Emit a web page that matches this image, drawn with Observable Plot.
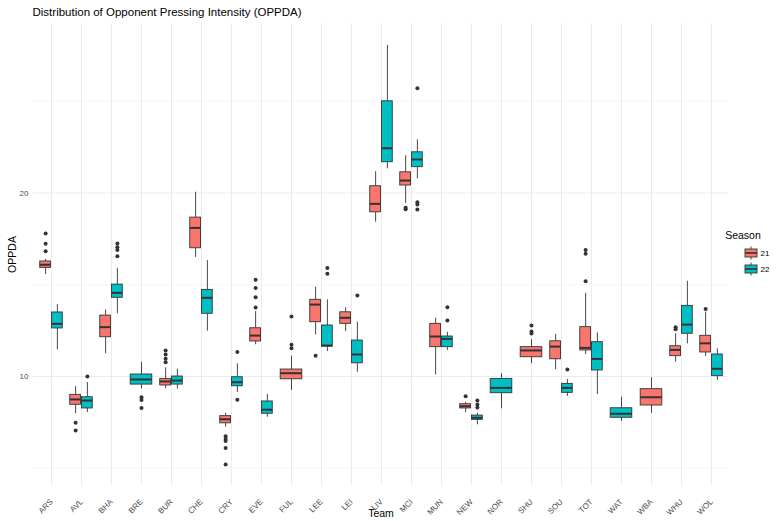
<!DOCTYPE html>
<html><head><meta charset="utf-8">
<script src="https://cdn.jsdelivr.net/npm/d3@7"></script>
<script src="https://cdn.jsdelivr.net/npm/@observablehq/plot@0.6"></script>
<style>body{margin:0;background:#fff}#chart{width:777px;height:521px}</style>
</head><body><div id="chart"></div>
<script>
const teams = ["ARS","AVL","BHA","BRE","BUR","CHE","CRY","EVE","FUL","LEE","LEI","LIV","MCI","MUN","NEW","NOR","SHU","SOU","TOT","WAT","WBA","WHU","WOL"];
const seasons = ["21","22"];
const seasonColors = ["#F8766D","#00BFC4"];
const yMajorTicks = [10, 20];
const yMinorTicks = [5, 15, 25];

// Season 21 box statistics (aligned with teams; null = no data)
const lower21 = [15.56,7.97,11.24,null,9.33,16.49,7.24,11.73,9.24,12.27,12.45,18.41,19.44,10.09,8.02,null,10.69,10.37,11.20,null,8.00,10.78,11.09];
const q1_21   = [15.92,8.46,12.14,null,9.51,16.99,7.45,11.91,9.85,12.96,12.87,18.95,20.41,11.60,8.26,null,11.05,10.94,11.42,null,8.42,11.11,11.31];
const med21   = [16.09,8.75,12.69,null,9.73,18.10,7.67,12.23,10.18,13.92,13.20,19.41,20.68,12.18,8.38,null,11.42,11.63,11.56,null,8.87,11.45,11.81];
const q3_21   = [16.27,9.00,13.32,null,9.87,18.66,7.84,12.63,10.38,14.18,13.50,20.37,21.13,12.87,8.49,null,11.60,11.92,12.69,null,9.31,11.65,12.22];
const upper21 = [16.38,9.46,13.63,null,10.47,20.04,8.00,13.54,11.11,14.87,13.74,21.17,22.03,13.18,8.60,null,12.00,12.29,14.54,null,9.93,12.33,13.51];
const outliers21 = [[17.79,17.23,16.83],[7.48,7.06],[],[],[11.42,11.2,10.97,10.78],[],[6.75,6.60,6.49,6.11,5.20],[15.27,14.83,14.32,13.76],[13.27,11.73,11.54],[11.13],[],[],[19.2,19.12],[],[8.93],[],[12.78,12.45,12.35],[],[16.90,16.69,15.19],[],[],[12.69,12.58],[13.68]];

// Season 22 box statistics
const lower22 = [11.45,8.04,13.42,9.33,9.31,12.47,9.13,7.78,null,11.36,10.23,21.32,20.77,11.42,7.37,8.24,null,8.91,9.02,7.55,null,11.78,9.78];
const q1_22   = [12.62,8.26,14.29,9.56,9.56,13.42,9.47,7.97,null,11.63,10.72,21.68,21.41,11.60,7.64,9.09,null,9.11,10.33,7.75,null,12.33,10.02];
const med22   = [12.87,8.69,14.56,9.84,9.78,14.29,9.69,8.19,null,11.69,11.20,22.44,21.83,12.05,7.75,9.38,null,9.38,10.96,7.97,null,12.83,10.42];
const q3_22   = [13.49,8.87,15.01,10.11,10.00,14.72,9.96,8.64,null,12.78,11.96,25.00,22.22,12.18,7.87,9.87,null,9.60,11.87,8.27,null,13.85,11.20];
const upper22 = [13.92,9.67,15.90,10.78,10.40,16.32,10.69,9.02,null,14.18,12.96,28.05,22.90,12.41,8.00,10.15,null,9.84,12.38,8.87,null,15.19,11.51];
const outliers22 = [[],[10.0],[17.25,17.05,16.9,16.55],[8.87,8.72,8.29],[],[],[11.34,8.73],[],[],[15.92,15.60],[14.41],[],[25.71,19.50,19.37,19.10],[13.78,13.05],[8.69,8.47,8.31],[],[],[10.38],[],[],[],[],[]];

const statsBySeason = {
  "21": {lo: lower21, q1: q1_21, med: med21, q3: q3_21, hi: upper21, out: outliers21},
  "22": {lo: lower22, q1: q1_22, med: med22, q3: q3_22, hi: upper22, out: outliers22}
};

const boxes = [];
const outs = [];
teams.forEach((team, i) => {
  const present = seasons.filter(s => statsBySeason[s].lo[i] != null);
  present.forEach(s => {
    const st = statsBySeason[s];
    const pos = present.length === 1 ? "C" : (s === "21" ? "L" : "R");
    boxes.push({team, season: s, pos, lo: st.lo[i], q1: st.q1[i], med: st.med[i], q3: st.q3[i], hi: st.hi[i]});
    st.out[i].forEach(v => outs.push({team, season: s, pos, v}));
  });
});

const geo = {
  L: {dx: -5.875, insetLeft: 3.75, insetRight: 15.5},
  R: {dx: 5.875, insetLeft: 15.5, insetRight: 3.75},
  C: {dx: 0, insetLeft: 4.2, insetRight: 4.2}
};
const ink = "#333333";
const boxMarks = [];
for (const p of ["L","R","C"]) {
  const g = boxes.filter(d => d.pos === p);
  const o = outs.filter(d => d.pos === p);
  const G = geo[p];
  boxMarks.push(
    Plot.ruleX(g, {x: "team", y1: "lo", y2: "q1", dx: G.dx, stroke: ink, strokeWidth: 0.9}),
    Plot.ruleX(g, {x: "team", y1: "q3", y2: "hi", dx: G.dx, stroke: ink, strokeWidth: 0.9}),
    Plot.barY(g, {x: "team", y1: "q1", y2: "q3", fill: "season", stroke: ink, strokeWidth: 0.9, insetLeft: G.insetLeft, insetRight: G.insetRight}),
    Plot.tickY(g, {x: "team", y: "med", stroke: ink, strokeWidth: 2, insetLeft: G.insetLeft, insetRight: G.insetRight}),
    Plot.dot(o, {x: "team", y: "v", dx: G.dx, r: 2, fill: ink, stroke: "none"})
  );
}

const W = 777, H = 521, mL = 33, mR = 49, mT = 23, mB = 36;
const plot = Plot.plot({
  width: W, height: H,
  marginLeft: mL, marginRight: mR, marginTop: mT, marginBottom: mB,
  style: {fontFamily: "'Liberation Sans', Arial, sans-serif", background: "#fff"},
  x: {type: "band", domain: teams, padding: 0, range: [35.7, 725.7]},
  y: {domain: [4.06, 29.24]},
  color: {domain: seasons, range: seasonColors},
  marks: [
    Plot.gridY(yMinorTicks, {stroke: "#EBEBEB", strokeOpacity: 1, strokeWidth: 0.5}),
    Plot.gridY(yMajorTicks, {stroke: "#EBEBEB", strokeOpacity: 1, strokeWidth: 1}),
    Plot.gridX(teams, {stroke: "#EBEBEB", strokeOpacity: 1, strokeWidth: 1}),
    Plot.axisY(yMajorTicks, {tickSize: 0, tickPadding: 5, fontSize: 8, fill: "#4D4D4D", label: null}),
    Plot.axisX({tickSize: 0, tickPadding: 15, tickRotate: -45, textAnchor: "end", lineAnchor: "middle", fontSize: 8, fill: "#4D4D4D", label: null}),
    ...boxMarks,
    Plot.text(["Distribution of Opponent Pressing Intensity (OPPDA)"], {text: d => d, frameAnchor: "top-left", dx: -1, dy: -11, textAnchor: "start", lineAnchor: "middle", fontSize: 11.5, fill: "#000"}),
    Plot.text(["OPPDA"], {text: d => d, frameAnchor: "left", dx: -21, rotate: -90, textAnchor: "middle", lineAnchor: "middle", fontSize: 10.5, fill: "#000"}),
    Plot.text(["Team"], {text: d => d, frameAnchor: "bottom", dy: 28, textAnchor: "middle", lineAnchor: "middle", fontSize: 10.5, fill: "#000"})
  ]
});

// ggplot-style legend with box glyph keys
const svg = d3.select(plot);
const color = plot.scale("color");
const lg = svg.append("g").attr("font-family", "'Liberation Sans', Arial, sans-serif");
lg.append("text").attr("x", 743).attr("y", 235).attr("dy", "0.35em").attr("font-size", 10.5).attr("fill", "#000").text("Season");
seasons.forEach((s, i) => {
  const cy = 253 + i * 16, cx = 751;
  lg.append("line").attr("x1", cx).attr("x2", cx).attr("y1", cy - 6.5).attr("y2", cy + 6.5).attr("stroke", ink).attr("stroke-width", 0.9);
  lg.append("rect").attr("x", cx - 6).attr("y", cy - 4).attr("width", 12).attr("height", 8).attr("fill", color.range[i]).attr("stroke", ink).attr("stroke-width", 0.9);
  lg.append("line").attr("x1", cx - 6).attr("x2", cx + 6).attr("y1", cy).attr("y2", cy).attr("stroke", ink).attr("stroke-width", 1.6);
  lg.append("text").attr("x", 765).attr("y", cy).attr("dy", "0.35em").attr("font-size", 8).attr("fill", "#000").text(s);
});

document.getElementById("chart").appendChild(plot);
</script>
</body></html>
